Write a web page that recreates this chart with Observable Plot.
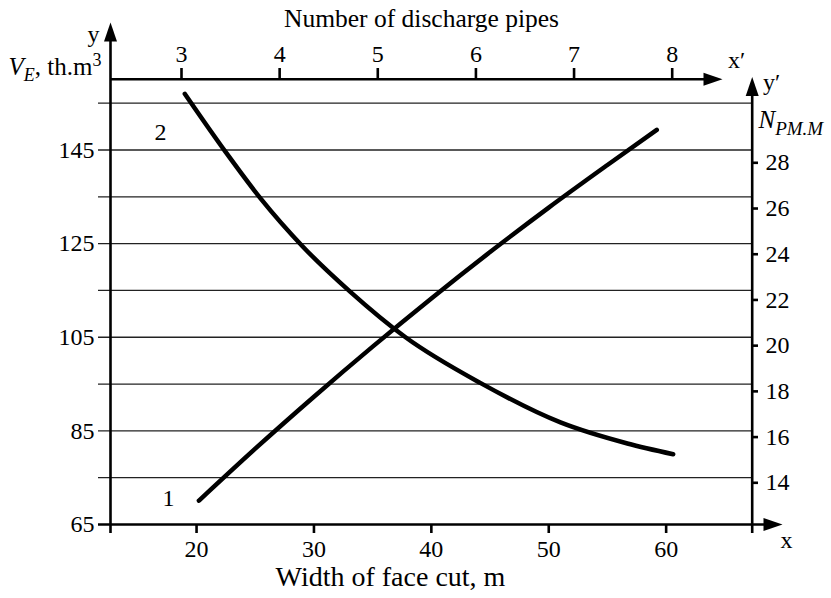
<!DOCTYPE html>
<html><head><meta charset="utf-8">
<script src="https://cdn.jsdelivr.net/npm/d3@7"></script>
<script src="https://cdn.jsdelivr.net/npm/@observablehq/plot@0.6"></script>
<style>body{margin:0;background:#fff} svg, svg text{font-family:"Liberation Serif","Times New Roman",serif !important}</style>
</head><body><div id="chart"></div>
<script>
// ---- data ----
const bottomTicks = [20, 30, 40, 50, 60];
const leftTicks = [65, 85, 105, 125, 145];
const gridValues = [75, 85, 95, 105, 115, 125, 135, 145, 155];
const topTicks = [3, 4, 5, 6, 7, 8];
const rightTicks = [14, 16, 18, 20, 22, 24, 26, 28];
const curve1X = [20.2, 25, 30, 35, 40, 45, 50, 55, 59.2];
const curve1Y = [70.1, 81.2, 92.3, 103.0, 113.3, 123.2, 132.7, 141.8, 149.3];
const curve2X = [19.0, 22.5, 25.5, 29.0, 33.1, 37.8, 44.2, 51.0, 56.7, 60.6];
const curve2Y = [157.0, 144.5, 134.5, 124.5, 114.7, 105.0, 95.2, 86.8, 82.3, 80.0];

const curve1 = curve1X.map((x, i) => ({x, y: curve1Y[i]}));
const curve2 = curve2X.map((x, i) => ({x, y: curve2Y[i]}));

// ---- layout ----
const xDomain = [12.67, 67.33], xRange = [110, 751.7];
const yDomain = [65, 155], yRange = [524, 102.7];
const X = d3.scaleLinear(xDomain, xRange);
const Y = d3.scaleLinear(yDomain, yRange);
const px = p => X.invert(p), py = p => Y.invert(p);
// secondary axes (pixel positions of their ticks)
const topScale = d3.scaleLinear([3, 8], [181, 671.7]);
const rightScale = d3.scaleLinear([14, 28], [482.3, 162.3]);

const FONT = "Liberation Serif";
const AX = {stroke: "#000", strokeWidth: 2.6};
const FS = 24;
const TXT = {fontSize: FS, fontFamily: FONT, fill: "#000"};
const arrowHead = {draw(ctx) { ctx.moveTo(0, 0); ctx.lineTo(-6.5, 19); ctx.lineTo(6.5, 19); ctx.closePath(); }};
const arrows = [
  {x: xDomain[0], y: py(22), r: 0},
  {x: xDomain[1], y: py(76.5), r: 0},
  {x: px(722), y: py(78.8), r: 90},
  {x: px(782), y: 65, r: 90}
];
const lbl = (t, x, y, o = {}) => Plot.text([t], {x: px(x), y: py(y), text: d => d, ...TXT, ...o});

const chart = Plot.plot({
  width: 831, height: 598,
  x: {domain: xDomain, range: xRange, axis: null},
  y: {domain: yDomain, range: yRange, axis: null},
  style: {fontFamily: FONT, background: "#fff", color: "#000"},
  marks: [
    Plot.ruleY(gridValues, {y: d => d, x1: px(98), x2: xDomain[1], stroke: "#222", strokeWidth: 1.3}),
    // bottom axis
    Plot.ruleY([65], {y: d => d, x1: px(98), x2: px(768), ...AX}),
    Plot.ruleX(bottomTicks, {x: d => d, y1: 65, y2: py(533), ...AX}),
    Plot.text(bottomTicks, {x: d => d, y: py(549), text: d => String(d), ...TXT}),
    // left axis
    Plot.ruleX([xDomain[0]], {x: d => d, y1: py(533), y2: py(38), ...AX}),
    Plot.text(leftTicks, {x: px(94), y: d => d, text: d => String(d), textAnchor: "end", ...TXT}),
    // right axis
    Plot.ruleX([xDomain[1]], {x: d => d, y1: py(533), y2: py(92), ...AX}),
    Plot.ruleY(rightTicks, {y: d => py(rightScale(d)), x1: xDomain[1], x2: px(758), ...AX}),
    Plot.text(rightTicks, {x: px(765), y: d => py(rightScale(d)), text: d => String(d), textAnchor: "start", ...TXT}),
    // top axis
    Plot.ruleY([py(78.8)], {y: d => d, x1: xDomain[0], x2: px(708), ...AX}),
    Plot.ruleX(topTicks, {x: d => px(topScale(d)), y1: py(78.8), y2: py(68), ...AX}),
    Plot.text(topTicks, {x: d => px(topScale(d)), y: py(54), text: d => String(d), ...TXT}),
    // arrow heads
    Plot.dot(arrows, {x: "x", y: "y", rotate: "r", symbol: arrowHead, fill: "#000", stroke: "none"}),
    // curves
    Plot.line(curve1, {x: "x", y: "y", curve: "monotone-x", stroke: "#000", strokeWidth: 4.5}),
    Plot.line(curve2, {x: "x", y: "y", curve: "monotone-x", stroke: "#000", strokeWidth: 4.5}),
    // labels
    lbl("Number of discharge pipes", 421, 18, {fontSize: 25.5}),
    lbl("Width of face cut, m", 390, 577, {fontSize: 28}),
    lbl("x\u2032", 736, 60),
    lbl("y", 93, 34),
    lbl("y\u2032", 771, 82),
    lbl("x", 786, 540),
    lbl("VE_LABEL", 8, 66, {textAnchor: "start", fontSize: 25}),
    lbl("NPM_LABEL", 758, 119, {textAnchor: "start", fontSize: 25}),
    lbl("1", 168, 498),
    lbl("2", 160, 132)
  ]
});
document.getElementById("chart").appendChild(chart);

// rich text (italic, sub/superscripts)
chart.querySelectorAll("text").forEach(t => {
  if (t.textContent === "VE_LABEL") {
    t.innerHTML = '<tspan font-style="italic">V</tspan><tspan font-style="italic" font-size="18" dy="6">E</tspan><tspan dy="-6">, th.m</tspan><tspan font-size="18" dy="-9">3</tspan>';
  } else if (t.textContent === "NPM_LABEL") {
    t.innerHTML = '<tspan font-style="italic">N</tspan><tspan font-style="italic" font-size="19" dy="7">PM.M</tspan>';
  }
});
</script>
</body></html>
